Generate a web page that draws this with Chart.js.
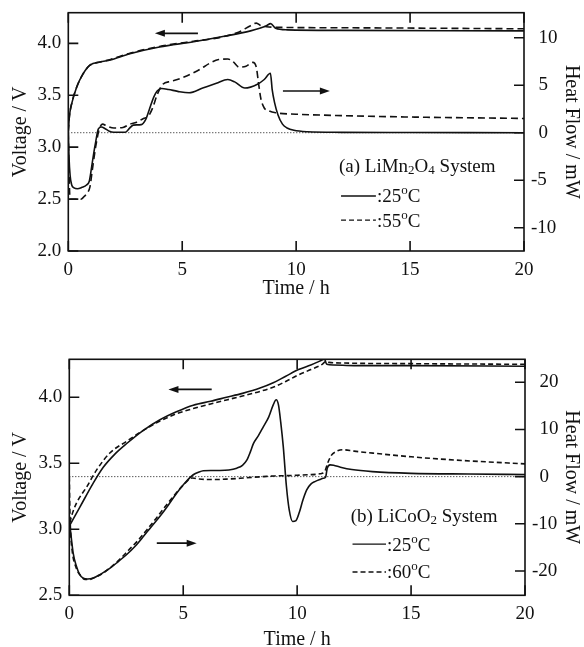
<!DOCTYPE html>
<html>
<head>
<meta charset="utf-8">
<script src="https://cdn.jsdelivr.net/npm/chart.js@4.4.1/dist/chart.umd.min.js"></script>
<style>
html, body { margin: 0; padding: 0; background: #fff; }
#wrap { position: relative; width: 584px; height: 647px; }
canvas { position: absolute; left: 0; }
#chartA { top: 0; }
#chartB { top: 320px; }
</style>
</head>
<body>
<div id="wrap">
	<canvas id="chartA" width="584" height="320"></canvas>
	<canvas id="chartB" width="584" height="327"></canvas>
</div>
<script>
// tick values
var timeTicks = [0, 5, 10, 15, 20];
var voltTicksA = [2.0, 2.5, 3.0, 3.5, 4.0];
var heatTicksA = [-10, -5, 0, 5, 10];
var voltTicksB = [2.5, 3.0, 3.5, 4.0];
var heatTicksB = [-20, -10, 0, 10, 20];
var zeroT = [0, 20];
var zeroH = [0, 0];

// (a) LiMn2O4 system
var tA25v = [0, 0.05, 0.15, 0.37, 0.66, 0.95, 1.4, 1.85, 2.7, 4.0, 5.5, 6.9, 8.0, 8.4, 8.7, 8.88, 9.1, 9.6, 12, 20];
var vA25 = [3.15, 3.3, 3.42, 3.58, 3.71, 3.79, 3.82, 3.84, 3.9, 3.965, 4.015, 4.07, 4.12, 4.145, 4.17, 4.19, 4.145, 4.13, 4.125, 4.12];
var tA55v = [0, 0.05, 0.15, 0.37, 0.66, 0.95, 1.4, 1.85, 2.7, 4.0, 5.5, 6.5, 7.0, 7.5, 8.0, 8.25, 8.45, 8.7, 9.0, 12, 20];
var vA55 = [3.15, 3.3, 3.42, 3.58, 3.71, 3.79, 3.82, 3.845, 3.905, 3.97, 4.02, 4.05, 4.075, 4.11, 4.17, 4.195, 4.17, 4.16, 4.155, 4.15, 4.14];

var tA25h = [0, 0.03, 0.08, 0.15, 0.25, 0.4, 0.6, 0.8, 0.92, 1.0, 1.1, 1.2, 1.32, 1.46, 1.6, 1.8, 2.0, 2.5, 2.7, 2.85, 3.2, 3.4, 3.55, 3.75, 3.9, 4.1, 4.4, 4.8, 5.3, 5.9, 6.5, 7.0, 7.3, 7.75, 8.3, 8.6, 8.87, 8.95, 9.05, 9.2, 9.4, 9.6, 9.9, 10.5, 12, 15, 20];
var hA25 = [0, -2.5, -4.5, -5.5, -5.8, -5.9, -5.75, -5.5, -5.1, -4.0, -2.4, -1.0, 0.4, 0.6, 0.45, 0.15, 0.05, 0.05, 0.5, 0.8, 0.85, 1.4, 2.4, 3.75, 4.4, 4.65, 4.55, 4.35, 4.2, 4.7, 5.2, 5.6, 5.35, 4.7, 5.1, 5.6, 6.25, 4.5, 3.2, 1.9, 0.9, 0.5, 0.25, 0.1, 0.04, 0.02, 0.0];
var tA55h = [0, 0.03, 0.08, 0.55, 0.7, 0.85, 0.95, 1.05, 1.2, 1.35, 1.5, 1.7, 2.0, 2.4, 2.7, 3.0, 3.3, 3.5, 3.7, 3.9, 4.15, 4.5, 4.9, 5.4, 5.8, 6.2, 6.6, 7.0, 7.2, 7.5, 7.8, 8.1, 8.25, 8.35, 8.45, 8.6, 8.8, 9.1, 10, 12, 15, 20];
var hA55 = [0, -4, -7.0, -7.0, -6.7, -6.3, -5.7, -4.0, -1.5, 0.3, 0.9, 0.7, 0.5, 0.55, 0.9, 1.1, 1.5, 1.7, 2.6, 4.0, 5.1, 5.4, 5.7, 6.2, 6.7, 7.3, 7.7, 7.75, 7.55, 6.9, 7.0, 7.4, 6.9, 5.2, 3.6, 2.6, 2.3, 2.1, 1.95, 1.8, 1.65, 1.5];

// (b) LiCoO2 system
var tB25v = [0.02, 0.47, 1.05, 1.49, 2.0, 2.52, 3.25, 3.98, 4.7, 5.44, 6.2, 6.9, 7.6, 8.37, 8.95, 9.5, 10.06, 10.6, 11.07, 11.2, 11.3, 11.6, 12.5, 15, 20];
var vB25 = [3.03, 3.17, 3.35, 3.47, 3.57, 3.65, 3.75, 3.83, 3.89, 3.94, 3.97, 4.0, 4.03, 4.07, 4.11, 4.16, 4.21, 4.245, 4.28, 4.29, 4.25, 4.245, 4.24, 4.24, 4.235];
var tB60v = [0.03, 0.1, 0.32, 0.76, 1.2, 1.79, 2.5, 3.25, 3.98, 4.7, 5.44, 6.2, 6.9, 7.6, 8.37, 9, 9.5, 10.06, 10.6, 11.1, 11.25, 11.4, 12, 15, 20];
var vB60 = [3.05, 3.1, 3.2, 3.32, 3.45, 3.58, 3.665, 3.75, 3.82, 3.875, 3.915, 3.95, 3.98, 4.01, 4.045, 4.08, 4.12, 4.17, 4.21, 4.25, 4.27, 4.265, 4.26, 4.255, 4.25];

var tB25h = [0.03, 0.17, 0.32, 0.45, 0.61, 0.8, 1.05, 1.4, 1.79, 2.15, 2.52, 2.9, 3.25, 3.6, 3.98, 4.35, 4.71, 5.1, 5.44, 5.7, 5.88, 6.2, 6.61, 7.0, 7.35, 7.6, 7.79, 7.95, 8.08, 8.3, 8.52, 8.75, 8.95, 9.08, 9.18, 9.28, 9.39, 9.53, 9.65, 9.8, 9.95, 10.1, 10.25, 10.42, 10.6, 10.8, 11.0, 11.15, 11.25, 11.32, 11.45, 11.6, 11.9, 12.4, 13.3, 15, 17.5, 20];
var hB25 = [-10.5, -16.2, -19.1, -20.7, -21.5, -21.7, -21.5, -20.6, -19.4, -18.0, -16.5, -14.7, -12.7, -10.6, -8.4, -6.0, -3.5, -1.2, 0.4, 1.0, 1.25, 1.3, 1.3, 1.4, 1.8, 2.4, 3.5, 5.3, 7.0, 8.7, 10.6, 12.6, 15.2, 16.3, 15.2, 11.5, 6.4, -2.1, -7.0, -9.5, -9.3, -7.5, -5.0, -2.8, -1.6, -1.0, -0.6, -0.35, -0.1, 1.8, 2.5, 2.4, 2.0, 1.5, 1.06, 0.7, 0.55, 0.45];
var tB60h = [0, 0.02, 0.05, 0.12, 0.3, 0.5, 0.7, 0.9, 1.1, 1.4, 1.8, 2.2, 2.6, 3.0, 3.4, 3.8, 4.2, 4.6, 5.0, 5.4, 5.7, 6.0, 6.5, 7.0, 7.5, 8.0, 8.5, 9.0, 9.5, 10.0, 10.5, 11.0, 11.2, 11.35, 11.5, 11.7, 12.0, 12.5, 13.5, 15, 17, 20];
var hB60 = [0, -6, -11, -15.5, -19.3, -21.0, -21.8, -21.8, -21.4, -20.7, -19.3, -17.6, -15.6, -13.6, -11.3, -8.9, -6.4, -4.0, -1.8, -0.3, -0.5, -0.6, -0.6, -0.5, -0.35, -0.15, 0.0, 0.15, 0.2, 0.3, 0.4, 0.6, 1.0, 3.0, 4.5, 5.3, 5.7, 5.4, 4.9, 4.2, 3.5, 2.7];

var INK = '#111';
var SERIF = '"Liberation Serif", "DejaVu Serif", serif';

function pts(xs, ys) {
	return xs.map(function(x, i) { return { x: x, y: ys[i] }; });
}

function line(data, axis, dash, width) {
	return {
		data: data,
		yAxisID: axis,
		borderColor: INK,
		borderWidth: width || 1.6,
		borderDash: dash || [],
		pointRadius: 0,
		fill: false,
		cubicInterpolationMode: 'monotone'
	};
}

// frame and inward tick marks
var framePlugin = {
	id: 'frame',
	afterDatasetsDraw: function(chart) {
		var ctx = chart.ctx, a = chart.chartArea;
		var sx = chart.scales.x, sy = chart.scales.y, sy1 = chart.scales.y1;
		var L = 10;
		ctx.save();
		ctx.strokeStyle = INK;
		ctx.lineWidth = 1.6;
		ctx.strokeRect(a.left, a.top, a.right - a.left, a.bottom - a.top);
		ctx.beginPath();
		sx.ticks.forEach(function(t) {
			var p = sx.getPixelForValue(t.value);
			ctx.moveTo(p, a.bottom); ctx.lineTo(p, a.bottom - L);
			ctx.moveTo(p, a.top); ctx.lineTo(p, a.top + L);
		});
		sy.ticks.forEach(function(t) {
			var p = sy.getPixelForValue(t.value);
			ctx.moveTo(a.left, p); ctx.lineTo(a.left + L, p);
		});
		sy1.ticks.forEach(function(t) {
			var p = sy1.getPixelForValue(t.value);
			ctx.moveTo(a.right, p); ctx.lineTo(a.right - L, p);
		});
		ctx.stroke();
		ctx.restore();
	}
};

function richText(ctx, x, yMid, parts) {
	var base = yMid + 6.5;
	parts.forEach(function(p) {
		if (p.sub) {
			ctx.font = '13px ' + SERIF;
			ctx.fillText(p.t, x, base + 2);
		} else if (p.sup) {
			ctx.font = '13px ' + SERIF;
			ctx.fillText(p.t, x, base - 8);
		} else {
			ctx.font = '19px ' + SERIF;
			ctx.fillText(p.t, x, base);
		}
		x += ctx.measureText(p.t).width;
	});
}

// arrows and in-plot legend, positioned in data units
function notesPlugin(cfg) {
	return {
		id: 'notes',
		afterDatasetsDraw: function(chart) {
			var ctx = chart.ctx, sx = chart.scales.x;
			ctx.save();
			ctx.strokeStyle = INK;
			ctx.fillStyle = INK;
			ctx.lineWidth = 1.6;
			cfg.arrows.forEach(function(ar) {
				var sc = chart.scales[ar.axis];
				var x1 = sx.getPixelForValue(ar.x1), x2 = sx.getPixelForValue(ar.x2);
				var y = sc.getPixelForValue(ar.y);
				var dir = x2 > x1 ? 1 : -1;
				ctx.beginPath();
				ctx.moveTo(x1, y); ctx.lineTo(x2 - dir * 6, y);
				ctx.stroke();
				ctx.beginPath();
				ctx.moveTo(x2, y);
				ctx.lineTo(x2 - dir * 10, y - 3.5);
				ctx.lineTo(x2 - dir * 10, y + 3.5);
				ctx.closePath();
				ctx.fill();
			});
			var lg = cfg.legend, sc = chart.scales.y1;
			ctx.textBaseline = 'alphabetic';
			ctx.textAlign = 'left';
			richText(ctx, sx.getPixelForValue(lg.x), sc.getPixelForValue(lg.y), lg.title);
			lg.rows.forEach(function(r) {
				var y = sc.getPixelForValue(r.y);
				var xa = sx.getPixelForValue(lg.lx1), xb = sx.getPixelForValue(lg.lx2);
				ctx.beginPath();
				ctx.setLineDash(r.dash);
				ctx.lineWidth = 1.4;
				ctx.moveTo(xa, y); ctx.lineTo(xb, y);
				ctx.stroke();
				ctx.setLineDash([]);
				richText(ctx, xb + 1, y, r.label);
			});
			ctx.restore();
		}
	};
}

function makeChart(id, o) {
	var tickFont = { family: SERIF, size: 19 };
	var titleFont = { family: SERIF, size: 20, lineHeight: 0.9 };
	var noGrid = { display: false, drawTicks: false };
	return new Chart(document.getElementById(id), {
		type: 'line',
		data: { datasets: o.datasets },
		plugins: [framePlugin, notesPlugin(o.notes)],
		options: {
			responsive: false,
			devicePixelRatio: 1,
			animation: false,
			layout: { padding: { top: o.top, left: 0, right: 0, bottom: 0 } },
			plugins: { legend: { display: false }, tooltip: { enabled: false } },
			scales: {
				x: {
					type: 'linear', min: 0, max: 20,
					afterBuildTicks: function(s) { s.ticks = timeTicks.map(function(v) { return { value: v }; }); },
					afterFit: function(s) { s.height = o.xh; s.paddingLeft = 0; s.paddingRight = 0; },
					grid: noGrid, border: { display: false },
					ticks: { font: tickFont, color: INK, padding: o.xpad, maxRotation: 0, autoSkip: false },
					title: { display: true, text: 'Time / h', font: titleFont, color: INK, padding: { top: 0, bottom: o.xtp } }
				},
				y: {
					position: 'left', min: o.vmin, max: o.vmax,
					afterBuildTicks: function(s) { s.ticks = o.vticks.map(function(v) { return { value: v }; }); },
					afterFit: function(s) { s.width = o.yw; s.paddingTop = 0; s.paddingBottom = 0; },
					grid: noGrid, border: { display: false },
					ticks: { font: tickFont, color: INK, padding: 7, callback: function(v) { return v.toFixed(1); } },
					title: { display: true, text: 'Voltage / V', font: titleFont, color: INK, padding: { top: 12, bottom: 0 } }
				},
				y1: {
					position: 'right', min: o.hmin, max: o.hmax,
					afterBuildTicks: function(s) { s.ticks = o.hticks.map(function(v) { return { value: v }; }); },
					afterFit: function(s) { s.width = o.y1w; s.paddingTop = 0; s.paddingBottom = 0; },
					grid: noGrid, border: { display: false },
					ticks: { font: tickFont, color: INK, padding: 7, callback: function(v) { return v < 0 ? '-' + Math.abs(v) : '\u2009\u2009' + v; } },
					title: { display: true, text: 'Heat Flow / mW', font: titleFont, color: INK, padding: { top: 4, bottom: 0 } }
				}
			}
		}
	});
}

makeChart('chartA', {
	top: 12.7, xh: 69, yw: 68.3, y1w: 60, xpad: 8, xtp: 22,
	vmin: 2.0, vmax: 4.295, hmin: -12.45, hmax: 12.63,
	vticks: voltTicksA, hticks: heatTicksA,
	datasets: [
		line(pts(zeroT, zeroH), 'y1', [1, 2], 1),
		line(pts(tA25v, vA25), 'y'),
		line(pts(tA55v, vA55), 'y', [7, 4]),
		line(pts(tA25h, hA25), 'y1'),
		line(pts(tA55h, hA55), 'y1', [7, 4])
	],
	notes: {
		arrows: [
			{ x1: 5.69, x2: 3.8, y: 4.096, axis: 'y' },
			{ x1: 9.42, x2: 11.48, y: 4.39, axis: 'y1' }
		],
		legend: {
			x: 11.88, y: -3.5, lx1: 11.97, lx2: 13.5,
			title: [{ t: '(a) LiMn' }, { t: '2', sub: true }, { t: 'O' }, { t: '4', sub: true }, { t: ' System' }],
			rows: [
				{ y: -6.66, dash: [], label: [{ t: ':25' }, { t: 'o', sup: true }, { t: 'C' }] },
				{ y: -9.2, dash: [5, 3], label: [{ t: ':55' }, { t: 'o', sup: true }, { t: 'C' }] }
			]
		}
	}
});

makeChart('chartB', {
	top: 39.3, xh: 51.7, yw: 69.3, y1w: 59, xpad: 7, xtp: -2,
	vmin: 2.5, vmax: 4.288, hmin: -25.15, hmax: 24.87,
	vticks: voltTicksB, hticks: heatTicksB,
	datasets: [
		line(pts(zeroT, zeroH), 'y1', [1, 2], 1),
		line(pts(tB25v, vB25), 'y'),
		line(pts(tB60v, vB60), 'y', [5, 3]),
		line(pts(tB25h, hB25), 'y1'),
		line(pts(tB60h, hB60), 'y1', [5, 3])
	],
	notes: {
		arrows: [
			{ x1: 6.25, x2: 4.35, y: 4.06, axis: 'y' },
			{ x1: 3.84, x2: 5.59, y: -14.1, axis: 'y1' }
		],
		legend: {
			x: 12.35, y: -8.3, lx1: 12.43, lx2: 13.9,
			title: [{ t: '(b) LiCoO' }, { t: '2', sub: true }, { t: ' System' }],
			rows: [
				{ y: -14.3, dash: [], label: [{ t: ':25' }, { t: 'o', sup: true }, { t: 'C' }] },
				{ y: -20.2, dash: [5, 3], label: [{ t: ':60' }, { t: 'o', sup: true }, { t: 'C' }] }
			]
		}
	}
});
</script>
</body>
</html>
